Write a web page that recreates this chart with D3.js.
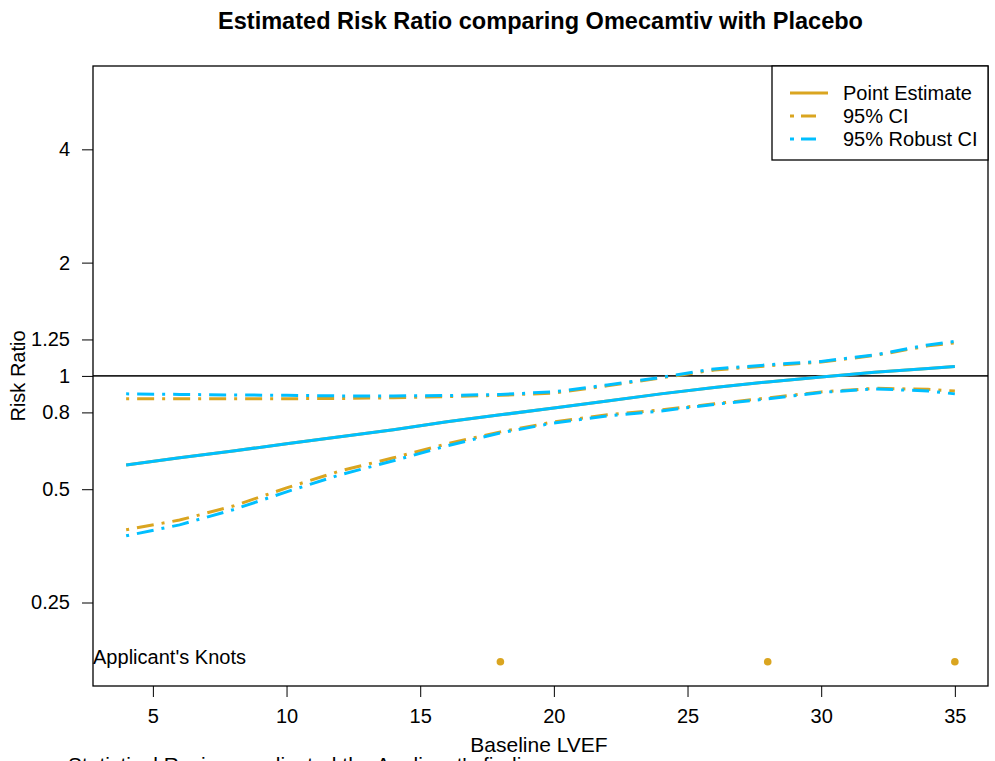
<!DOCTYPE html>
<html>
<head>
<meta charset="utf-8">
<script src="https://cdn.jsdelivr.net/npm/d3@7"></script>
<style>
  body { margin: 0; background: #fff; }
  svg { display: block; font-family: "Liberation Sans", Arial, sans-serif; }
</style>
</head>
<body>
<svg id="chart" width="995" height="761"></svg>
<script>
// baseline LVEF grid where the curves were read
const lvef = [4, 6, 8, 10, 12, 14, 16, 18, 20, 22, 24, 26, 28, 30, 32, 34, 35];

const pointEst = [0.580, 0.606, 0.632, 0.660, 0.689, 0.719, 0.755, 0.788, 0.822, 0.858, 0.896, 0.932, 0.964, 0.994, 1.022, 1.047, 1.060];

const ciUpper = [0.869, 0.869, 0.869, 0.870, 0.871, 0.875, 0.881, 0.888, 0.901, 0.941, 0.988, 1.037, 1.063, 1.089, 1.133, 1.202, 1.224];
const ciLower = [0.390, 0.414, 0.451, 0.504, 0.559, 0.606, 0.660, 0.710, 0.755, 0.788, 0.812, 0.843, 0.874, 0.907, 0.927, 0.921, 0.912];

const robustUpper = [0.896, 0.893, 0.890, 0.888, 0.885, 0.885, 0.887, 0.893, 0.907, 0.946, 0.991, 1.044, 1.070, 1.093, 1.137, 1.209, 1.235];
const robustLower = [0.376, 0.402, 0.441, 0.492, 0.546, 0.595, 0.652, 0.706, 0.750, 0.783, 0.807, 0.840, 0.869, 0.904, 0.924, 0.912, 0.896];

const knots = [18, 28, 35];
const knotLevel = 0.174;

const xTicks = [5, 10, 15, 20, 25, 30, 35];
const yTicks = [0.25, 0.5, 0.8, 1, 1.25, 2, 4];

const gold = '#DAA520';
const blue = '#00BFFF';
const dotDash = '3,8,17,8';

const svg = d3.select('#chart');
const box = { left: 93, right: 988, top: 66, bottom: 686 };

const x = d3.scaleLinear().domain([2.76, 36.24]).range([box.left, box.right]);
const y = d3.scaleLog().base(2).domain([0.15, 6.66]).range([box.bottom, box.top]);

// title
svg.append('text')
  .attr('x', (box.left + box.right) / 2)
  .attr('y', 29)
  .attr('text-anchor', 'middle')
  .attr('font-weight', 'bold')
  .attr('font-size', 23)
  .attr('textLength', 645)
  .attr('lengthAdjust', 'spacingAndGlyphs')
  .text('Estimated Risk Ratio comparing Omecamtiv with Placebo');

// axes
const xAxis = d3.axisBottom(x).tickValues(xTicks).tickSize(11).tickPadding(14);
const yAxis = d3.axisLeft(y).tickValues(yTicks).tickSize(11).tickPadding(12)
  .tickFormat(d => String(d));

const gx = svg.append('g')
  .attr('transform', 'translate(0,' + box.bottom + ')')
  .call(xAxis);
const gy = svg.append('g')
  .attr('transform', 'translate(' + box.left + ',0)')
  .call(yAxis);

[gx, gy].forEach(g => {
  g.select('.domain').remove();
  g.selectAll('line').attr('stroke', '#000');
  g.selectAll('text').attr('font-size', 20).attr('fill', '#000')
    .attr('font-family', '"Liberation Sans", Arial, sans-serif');
});
gx.selectAll('text').attr('dy', '0.62em');

svg.append('text')
  .attr('x', 539)
  .attr('y', 752)
  .attr('text-anchor', 'middle')
  .attr('font-size', 21)
  .text('Baseline LVEF');

svg.append('text')
  .attr('transform', 'translate(25,' + 376 + ') rotate(-90)')
  .attr('text-anchor', 'middle')
  .attr('font-size', 20)
  .text('Risk Ratio');

// reference line at 1
svg.append('line')
  .attr('x1', box.left).attr('x2', box.right)
  .attr('y1', y(1)).attr('y2', y(1))
  .attr('stroke', '#222')
  .attr('stroke-width', 1.6);

const line = d3.line()
  .x(d => x(d[0]))
  .y(d => y(d[1]));

const drawCurve = (vals, color, dash) => {
  svg.append('path')
    .datum(lvef.map((v, i) => [v, vals[i]]))
    .attr('d', line)
    .attr('fill', 'none')
    .attr('stroke', color)
    .attr('stroke-width', 3)
    .attr('stroke-dasharray', dash || null);
};

// applicant model
drawCurve(pointEst, gold);
drawCurve(ciUpper, gold, dotDash);
drawCurve(ciLower, gold, dotDash);
// robust model on top
drawCurve(pointEst, blue);
drawCurve(robustUpper, blue, dotDash);
drawCurve(robustLower, blue, dotDash);

// knots
svg.selectAll('circle.knot').data(knots)
  .enter()
  .append('circle')
  .attr('class', 'knot')
  .attr('cx', d => x(d))
  .attr('cy', y(knotLevel))
  .attr('r', 3.8)
  .attr('fill', gold);

svg.append('text')
  .attr('x', box.left)
  .attr('y', 664)
  .attr('font-size', 20)
  .attr('textLength', 153)
  .attr('lengthAdjust', 'spacingAndGlyphs')
  .text("Applicant's Knots");

// plot frame
svg.append('rect')
  .attr('x', box.left).attr('y', box.top)
  .attr('width', box.right - box.left).attr('height', box.bottom - box.top)
  .attr('fill', 'none')
  .attr('stroke', '#000')
  .attr('stroke-width', 1.3);

// legend
const leg = svg.append('g');
leg.append('rect')
  .attr('x', 772).attr('y', box.top)
  .attr('width', box.right - 772).attr('height', 94)
  .attr('fill', '#fff')
  .attr('stroke', '#000')
  .attr('stroke-width', 1.3);

const legendItems = [
  { label: 'Point Estimate', color: gold, dash: null },
  { label: '95% CI', color: gold, dash: '4,7,15,20' },
  { label: '95% Robust CI', color: blue, dash: '4,7,15,20' }
];

legendItems.forEach((item, i) => {
  const ly = 93 + i * 23;
  leg.append('line')
    .attr('x1', 790).attr('x2', 828)
    .attr('y1', ly).attr('y2', ly)
    .attr('stroke', item.color)
    .attr('stroke-width', 3)
    .attr('stroke-dasharray', item.dash);
  leg.append('text')
    .attr('x', 843)
    .attr('y', ly + 7)
    .attr('font-size', 20)
    .text(item.label);
});

// footnote, cut off by the page edge as in the source image
svg.append('text')
  .attr('x', 68)
  .attr('y', 772)
  .attr('font-size', 21)
  .text("Statistical Reviewer adjusted the Applicant's findings");
</script>
</body>
</html>
